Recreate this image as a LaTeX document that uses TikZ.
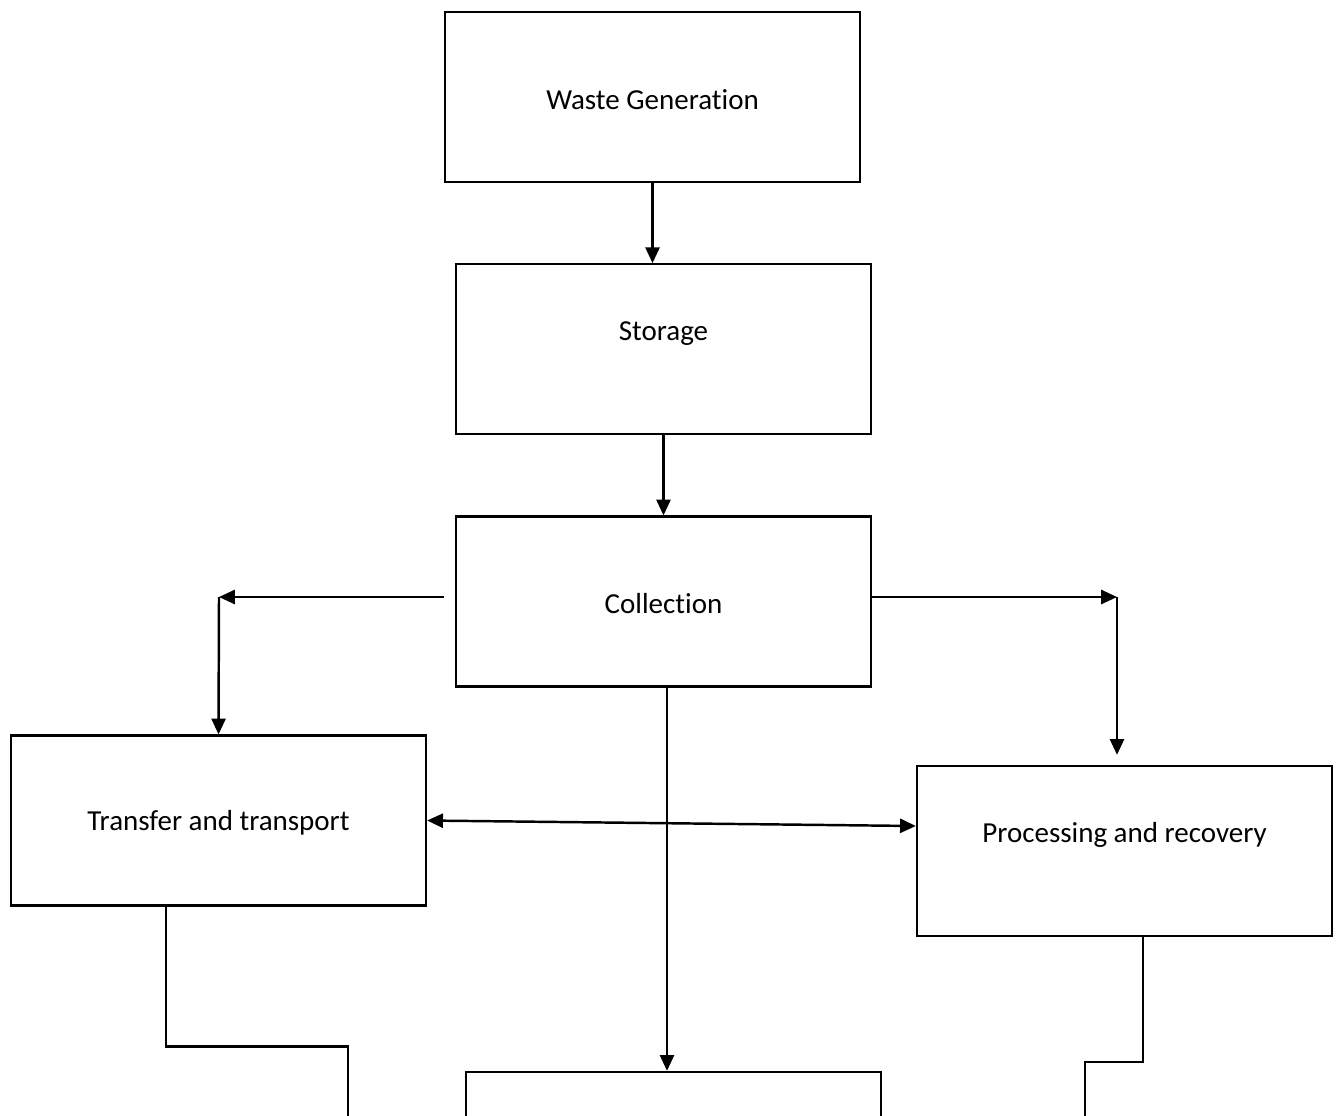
\documentclass[tikz,border=0pt]{standalone}
\usepackage{fontspec}
\setmainfont{Carlito}[Ligatures=NoCommon]
\usepackage{tikz}
\usetikzlibrary{arrows.meta, positioning}

\begin{document}
\begin{tikzpicture}[
        stage/.style={rectangle, draw, line width=1.3pt, minimum width=8.3cm, minimum height=3.4cm,
            text height=0.5cm, font=\fontsize{16.5}{20}\selectfont},
        lifted/.style={text depth=0.84cm},
        tip/.tip={Triangle[length=9pt, width=8pt]},
        flow/.style={line width=1.4pt, -tip},
        wire/.style={line width=1.4pt}
    ]
        \clip (0,0) rectangle (26.82,-22.3);
        \node[stage] (gen) at (13.05,-1.94) {Waste Generation};
        \node[stage, lifted, below=1.6cm of gen, xshift=0.22cm] (store) {Storage};
        \node[stage, below=1.6cm of store] (coll) {Collection};
        \node[stage] (trans) at (4.37,-16.41) {Transfer and transport};
        \node[stage, lifted] (proc) at (22.49,-17.02) {Processing and recovery};
        \node[stage] (disp) at (13.47,-23.14) {};

        \coordinate (tl) at (4.38,-11.94);
        \coordinate (tr) at (22.34,-11.94);
        \coordinate (tend) at (6.96,-22.6);
        \coordinate (pend) at (21.7,-22.6);

        \draw[flow] (gen.south) -- (gen.south |- store.north);
        \draw[flow] (store) -- (coll);
        \draw[flow] ([xshift=-0.22cm]coll.west |- tl) -- (tl);
        \draw[flow] (tl) -- (trans.north);
        \draw[flow] (coll.east |- tr) -- (tr);
        \draw[flow] (tr) -- ([yshift=0.2cm]tr |- proc.north);
        \draw[flow, tip-tip] (trans.east) -- ([yshift=0.5cm]proc.west);
        \draw[flow] ([xshift=0.07cm]coll.south) -- ([xshift=0.07cm]coll.south |- disp.north);
        \draw[wire] ([xshift=-1.05cm]trans.south) -- ++(0,-2.8) -| (tend);
        \draw[wire] ([xshift=0.37cm]proc.south) -- ++(0,-2.5) -| (pend);
    \end{tikzpicture}
\end{document}
